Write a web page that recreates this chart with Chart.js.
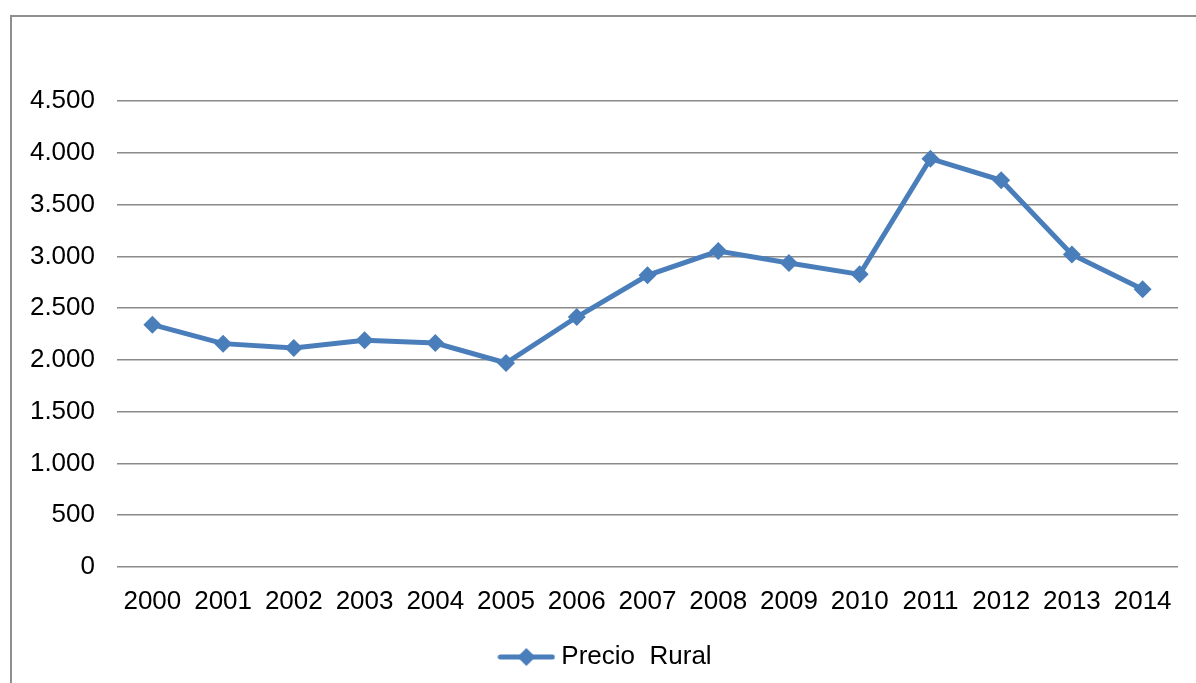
<!DOCTYPE html>
<html lang="es">
<head>
<meta charset="UTF-8">
<title>Precio Rural</title>
<script src="https://cdn.jsdelivr.net/npm/chart.js"></script>
<style>
    html, body { margin: 0; padding: 0; background: #fff; }
    .frame {
        position: absolute; left: 10px; top: 15px; width: 1200px; height: 700px;
        border-top: 2px solid #8f8f8f; border-left: 2px solid #8f8f8f;
    }
    .wrap { position: absolute; left: 0; top: 0; width: 1196px; height: 683px; }
</style>
</head>
<body>
<div class="frame"></div>
<div class="wrap"><canvas id="precio"></canvas></div>
<script>
    // data
    var years = ['2000', '2001', '2002', '2003', '2004', '2005', '2006', '2007',
                 '2008', '2009', '2010', '2011', '2012', '2013', '2014'];
    var precioRural = [2340, 2157, 2115, 2189, 2163, 1970, 2414, 2817,
                       3051, 2935, 2826, 3943, 3734, 3017, 2681];
    var seriesName = 'Precio  Rural';

    var blue = '#4a7ebb';
    var font = '"Liberation Sans", Arial, sans-serif';

    // legend marker: line with a diamond
    function legendMarker() {
        var c = document.createElement('canvas');
        c.width = 58; c.height = 22;
        var g = c.getContext('2d');
        g.strokeStyle = blue;
        g.lineWidth = 5;
        g.lineCap = 'round';
        g.beginPath(); g.moveTo(3, 11); g.lineTo(55, 11); g.stroke();
        g.fillStyle = blue;
        g.beginPath(); g.moveTo(29, 2); g.lineTo(38, 11); g.lineTo(29, 20); g.lineTo(20, 11); g.closePath(); g.fill();
        return c;
    }

    function fmt(v) {
        return String(v).replace(/\B(?=(\d{3})+(?!\d))/g, '.');
    }

    // legend in the original sits a bit right of the canvas centre
    var legendShift = {
        id: 'legendShift',
        afterLayout: function (chart) {
            if (chart.legend) chart.legend.left = 38;
        }
    };

    var ctx = document.getElementById('precio').getContext('2d');
    new Chart(ctx, {
        type: 'line',
        data: {
            labels: years,
            datasets: [{
                label: seriesName,
                data: precioRural,
                borderColor: blue,
                backgroundColor: blue,
                borderWidth: 5,
                pointStyle: 'rectRot',
                pointRadius: 9,
                pointHoverRadius: 9,
                pointBorderWidth: 0,
                tension: 0
            }]
        },
        options: {
            responsive: true,
            maintainAspectRatio: false,
            animation: false,
            layout: { padding: { left: 10, right: 18, top: 101, bottom: 3 } },
            plugins: {
                tooltip: { enabled: false },
                legend: {
                    position: 'bottom',
                    labels: {
                        usePointStyle: true,
                        pointStyle: legendMarker(),
                        pointStyleWidth: 44,
                        boxHeight: 22,
                        color: '#000',
                        font: { family: font, size: 26 }
                    }
                }
            },
            scales: {
                x: {
                    offset: true,
                    grid: { display: false, drawTicks: false },
                    border: { display: false },
                    ticks: { color: '#000', padding: 19, maxRotation: 0, font: { family: font, size: 26 } },
                    afterFit: function (axis) { axis.height = 67; }
                },
                y: {
                    min: 0,
                    max: 4500,
                    grid: { color: '#8a8a8a', lineWidth: 1.5, drawTicks: false },
                    border: { display: false },
                    ticks: {
                        stepSize: 500,
                        color: '#000',
                        padding: 22,
                        font: { family: font, size: 26 },
                        callback: function (v) { return fmt(v); }
                    },
                    afterFit: function (axis) { axis.width = 107; }
                }
            }
        },
        plugins: [legendShift]
    });
</script>
</body>
</html>
